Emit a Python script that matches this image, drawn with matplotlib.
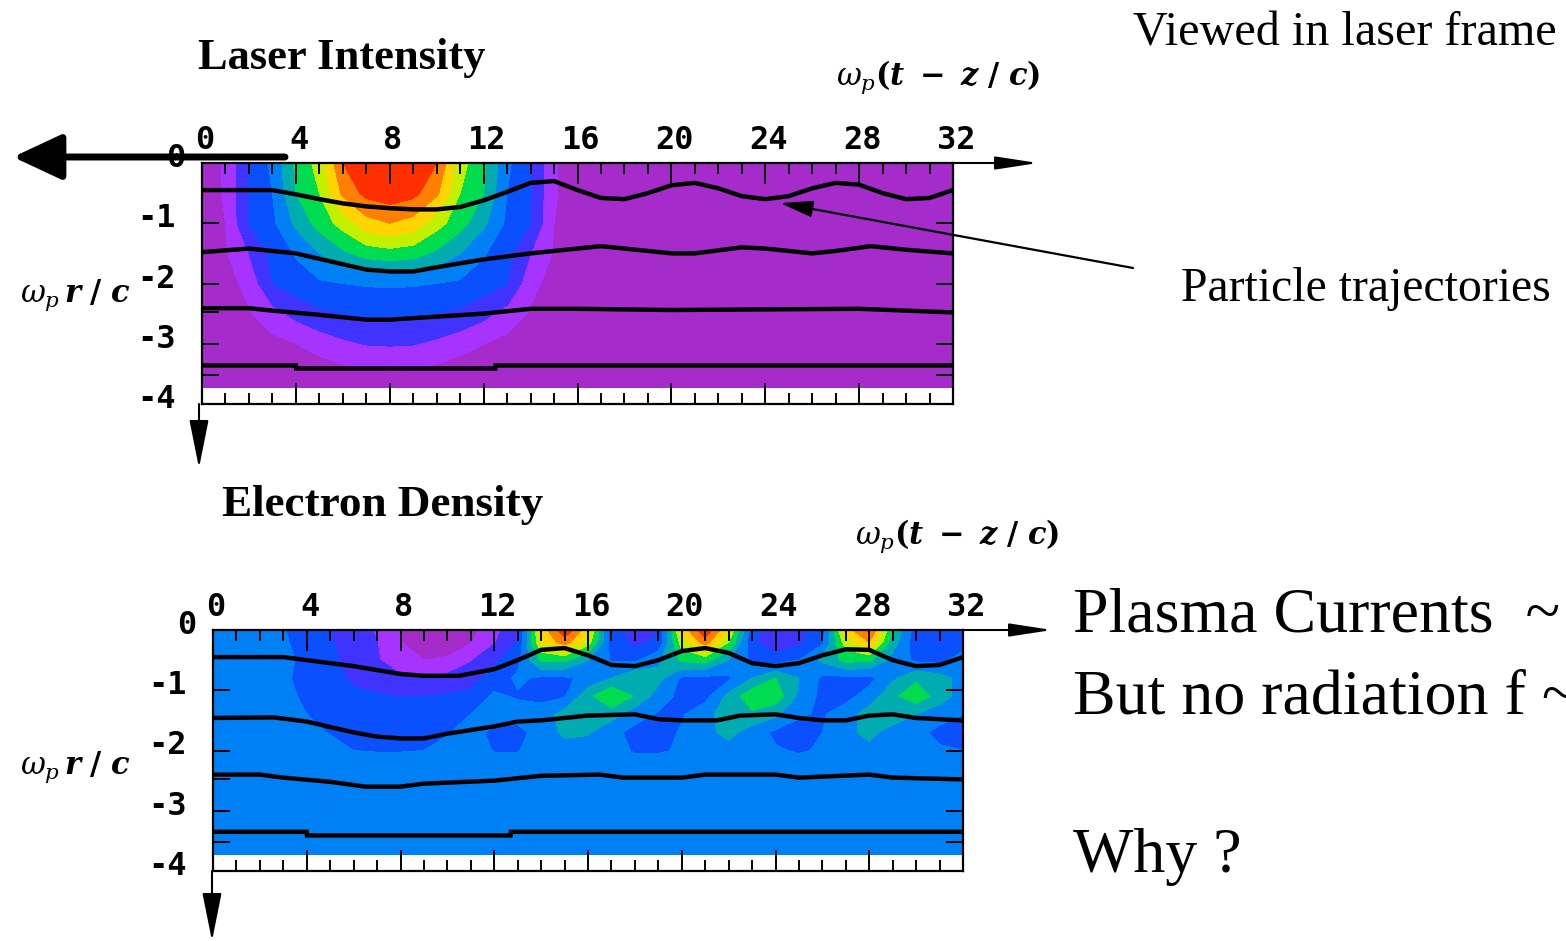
# -*- coding: utf-8 -*-
import numpy as np
import matplotlib
matplotlib.use('Agg')
import matplotlib.pyplot as plt
from matplotlib.transforms import ScaledTranslation

plt.rcParams['mathtext.fontset'] = 'dejavuserif'

W, H = 1566, 941

# band colours, low to high
band_colors = ['#A52CCB', '#A633FF', '#4033FF', '#0A50FF', '#0080F5', '#00ACB0',
               '#00DC50', '#C4F000', '#FFD400', '#FF8000', '#FF3000']
band_levels = [-1, 1, 2, 3, 4, 5, 6, 7, 8, 9, 10, 13]

x_ticks = [0, 4, 8, 12, 16, 20, 24, 28, 32]
y_ticks = [0, -1, -2, -3, -4]

laser_x = [0, 1, 2, 3, 4, 5, 6, 7, 8, 9, 10, 11, 12, 13, 14, 15, 16, 32]
laser_y = [0, -0.5, -1, -1.5, -2, -2.5, -3, -3.5, -3.73]
laser_z = [
    [0.5, 1.1, 3.1, 4.2, 6.2, 7.4, 10.0, 11.0, 12.0, 11.0, 10.0, 7.4, 6.2, 4.2, 3.1, 1.1, 0.5, 0],
    [0.5, 1.1, 3.05, 4.0, 6.0, 7.0, 9.2, 10.3, 10.6, 10.3, 9.2, 7.0, 6.0, 4.0, 3.05, 1.1, 0.5, 0],
    [0.3, 1.0, 3.0, 3.8, 5.2, 6.4, 7.4, 8.6, 9.0, 8.6, 7.4, 6.4, 5.2, 3.8, 3.0, 1.0, 0.3, 0],
    [0.2, 0.9, 2.0, 3.3, 4.1, 5.0, 5.8, 6.4, 6.6, 6.4, 5.8, 5.0, 4.1, 3.3, 2.0, 0.9, 0.2, 0],
    [0.0, 0.6, 1.3, 3.0, 3.5, 3.85, 4.0, 4.1, 4.15, 4.1, 4.0, 3.85, 3.5, 3.0, 1.3, 0.6, 0.0, 0],
    [0.0, 0.3, 0.9, 1.6, 2.3, 2.8, 3.0, 3.1, 3.15, 3.1, 3.0, 2.8, 2.3, 1.6, 0.9, 0.3, 0.0, 0],
    [0.0, 0.0, 0.3, 0.7, 1.0, 1.4, 1.8, 2.05, 2.1, 2.05, 1.8, 1.4, 1.0, 0.7, 0.3, 0.0, 0.0, 0],
    [0.0, 0.0, 0.0, 0.0, 0.2, 0.4, 0.6, 0.8, 0.85, 0.8, 0.6, 0.4, 0.2, 0.0, 0.0, 0.0, 0.0, 0],
    [0.0, 0.0, 0.0, 0.0, 0.0, 0.0, 0.0, 0.0, 0.0, 0.0, 0.0, 0.0, 0.0, 0.0, 0.0, 0.0, 0.0, 0],
]

# electron density, same band numbers, x = 0..32
density_x = list(range(33))
density_y = [0, -0.2, -0.5, -0.8, -1.1, -1.4, -1.7, -2, -2.3, -3.73]
density_z = [
    [4.5, 4.5, 4.5, 4.05, 3.6, 3.0, 2.4, 1.9, 1.0, 0.5, 0.5, 0.7, 1.7, 2.7, 8.3, 10.8, 8.3, 3.5, 2.7, 3.0, 8.3, 10.8, 8.0, 3.5, 2.3, 2.7, 3.6, 8.5, 10.2, 6.0, 3.5, 3.2, 3.5],
    [4.5, 4.5, 4.5, 4.1, 3.7, 3.1, 2.5, 2.0, 1.0, 0.6, 0.6, 0.9, 1.9, 3.0, 8.0, 9.5, 7.5, 3.5, 2.7, 3.2, 7.5, 9.5, 7.0, 3.2, 2.2, 2.8, 3.8, 7.5, 9.0, 5.5, 3.4, 2.9, 3.5],
    [4.5, 4.5, 4.5, 4.2, 3.8, 3.2, 2.7, 2.1, 1.3, 1.0, 1.1, 1.9, 2.8, 3.7, 6.2, 6.2, 5.0, 3.9, 3.8, 4.8, 6.2, 6.4, 5.0, 3.8, 3.5, 4.0, 5.2, 6.3, 6.2, 4.6, 3.8, 3.7, 4.5],
    [4.5, 4.5, 4.5, 4.1, 3.8, 3.3, 2.85, 2.5, 2.2, 2.0, 2.3, 2.7, 3.4, 4.2, 3.8, 3.8, 4.3, 5.0, 6.0, 5.3, 3.8, 3.7, 3.8, 5.0, 6.0, 5.0, 3.8, 3.7, 3.7, 4.8, 5.8, 5.4, 4.6],
    [4.5, 4.5, 4.5, 4.15, 3.9, 3.6, 3.2, 3.1, 3.0, 3.0, 3.1, 3.2, 4.2, 3.9, 3.7, 3.9, 5.7, 7.0, 5.9, 4.5, 3.7, 3.7, 5.3, 6.7, 6.6, 4.8, 3.7, 3.7, 4.4, 5.8, 6.6, 5.6, 4.4],
    [4.5, 4.5, 4.5, 4.3, 4.0, 3.75, 3.5, 3.3, 3.3, 3.4, 3.6, 4.0, 4.4, 4.4, 4.5, 5.4, 5.9, 5.4, 4.4, 3.9, 3.9, 4.6, 5.6, 5.8, 5.2, 4.1, 3.9, 4.5, 5.5, 5.7, 5.0, 4.3, 4.0],
    [4.5, 4.5, 4.5, 4.5, 4.25, 3.95, 3.75, 3.6, 3.6, 3.7, 3.95, 4.3, 3.8, 3.7, 4.4, 5.2, 5.1, 4.3, 3.7, 3.6, 4.1, 4.7, 5.3, 4.5, 3.8, 3.7, 4.0, 4.7, 5.3, 4.5, 4.2, 3.8, 3.7],
    [4.5, 4.5, 4.5, 4.5, 4.5, 4.3, 4.0, 3.95, 3.95, 4.0, 4.2, 4.4, 3.95, 3.95, 4.4, 4.6, 4.5, 4.4, 3.9, 3.9, 4.1, 4.5, 4.6, 4.5, 4.1, 3.9, 4.1, 4.5, 4.7, 4.5, 4.4, 4.1, 4.0],
    [4.5] * 33,
    [4.5] * 33,
]

# particle trajectories
top_x1 = [0, 3, 4, 5, 6, 7, 8, 9, 10, 11, 12, 13, 14, 15, 16, 17, 18, 19, 20, 21, 22, 23, 24, 25, 26, 27, 28, 29, 30, 31, 32]
top_y1 = [-.45, -.45, -.52, -.6, -.67, -.72, -.75, -.77, -.77, -.73, -.62, -.48, -.33, -.3, -.45, -.58, -.6, -.5, -.37, -.33, -.42, -.55, -.6, -.55, -.42, -.33, -.36, -.5, -.6, -.58, -.45]
top_x2 = [0, 2, 4, 6, 7, 8, 9, 10, 12, 14, 16, 17, 18, 20, 21, 23, 24, 26, 27, 28.5, 30, 32]
top_y2 = [-1.48, -1.42, -1.5, -1.68, -1.77, -1.8, -1.8, -1.73, -1.6, -1.5, -1.42, -1.38, -1.42, -1.5, -1.5, -1.4, -1.42, -1.5, -1.46, -1.38, -1.44, -1.5]
top_x3 = [0, 2, 3, 5, 7, 8, 10, 12, 14, 16, 20, 24, 28, 32]
top_y3 = [-2.41, -2.41, -2.45, -2.52, -2.6, -2.6, -2.55, -2.5, -2.42, -2.42, -2.44, -2.43, -2.42, -2.48]
top_x4 = [0, 4, 4.01, 12.5, 12.51, 32]
top_y4 = [-3.36, -3.36, -3.41, -3.41, -3.36, -3.36]

low_x1 = [0, 3, 4, 6, 8, 9, 10.5, 12, 13, 14, 15, 16, 17, 18, 19, 20, 21, 22, 23, 24, 25, 26, 27, 28, 29, 30, 31, 32]
low_y1 = [-.45, -.45, -.5, -.6, -.73, -.76, -.76, -.65, -.5, -.33, -.3, -.42, -.58, -.6, -.5, -.35, -.3, -.38, -.55, -.6, -.55, -.42, -.32, -.33, -.5, -.6, -.58, -.45]
low_x2 = [0, 2.6, 4, 6, 7, 8, 9, 10, 12, 13, 14, 16, 18, 19, 20, 21.5, 22.5, 24, 25, 26, 27, 28, 29, 30, 32]
low_y2 = [-1.46, -1.45, -1.52, -1.7, -1.77, -1.8, -1.8, -1.72, -1.6, -1.52, -1.5, -1.42, -1.4, -1.48, -1.5, -1.5, -1.42, -1.4, -1.46, -1.5, -1.5, -1.42, -1.4, -1.46, -1.5]
low_x3 = [0, 2, 3, 5, 6.5, 8, 9, 12, 14, 16.5, 17.5, 20, 21, 24, 25, 28, 29, 32]
low_y3 = [-2.4, -2.4, -2.45, -2.52, -2.6, -2.6, -2.55, -2.5, -2.42, -2.4, -2.45, -2.45, -2.4, -2.4, -2.45, -2.4, -2.45, -2.48]
low_x4 = [0, 4, 4.01, 12.7, 12.71, 32]
low_y4 = [-3.35, -3.35, -3.41, -3.41, -3.35, -3.35]

bold_mono = dict(family='DejaVu Sans Mono', fontweight='bold', fontsize=23)
serif = dict(family='Liberation Serif', color='k')


def panel(rect, x, y, z, lines):
    l, t, r, b = rect
    ax = fig.add_axes([l / W, 1 - b / H, (r - l) / W, (b - t) / H])
    ax.contourf(x, y, np.array(z), levels=band_levels, colors=band_colors, antialiased=False)
    for lx, ly in lines:
        ax.plot(lx, ly, color='k', lw=3.2, solid_joinstyle='miter')
    ax.set(xlim=(0, 32), ylim=(-4, 0))
    ax.set_xticks(x_ticks)
    ax.set_xticks(range(33), minor=True)
    ax.set_yticks(y_ticks)
    ax.set_yticklabels(['0', '-1', '-2', '-3', '-4'], **bold_mono)
    ax.set_xticklabels([str(t) for t in x_ticks], **bold_mono)
    ax.set_yticks([-2.47, -3.52], minor=True)
    ax.tick_params(axis='x', which='major', direction='in', top=True, bottom=True,
                   labeltop=True, labelbottom=False, length=15, width=1.4, pad=5)
    ax.tick_params(axis='x', which='minor', direction='in', top=True, bottom=True, length=8, width=1.4)
    ax.tick_params(axis='y', which='major', direction='in', left=True, right=True, length=12, width=1.4, pad=19)
    ax.tick_params(axis='y', which='minor', direction='in', left=True, right=True, length=12, width=1.4)
    # labels in the reference sit a little above their ticks
    for i, lab in enumerate(ax.get_yticklabels()):
        dx = 10 if i == 0 else 0
        lab.set_transform(lab.get_transform() + ScaledTranslation(dx / 100, 8 / 100, fig.dpi_scale_trans))
    for lab in ax.get_xticklabels():
        lab.set_transform(lab.get_transform() + ScaledTranslation(3 / 100, 0, fig.dpi_scale_trans))
    for s in ax.spines.values():
        s.set_linewidth(1.6)
    return ax


fig = plt.figure(figsize=(W / 100, H / 100), dpi=100)

panel((202, 163, 953, 404), laser_x, laser_y, laser_z,
      [(top_x1, top_y1), (top_x2, top_y2), (top_x3, top_y3), (top_x4, top_y4)])
panel((213, 630, 963, 871), density_x, density_y, density_z,
      [(low_x1, low_y1), (low_x2, low_y2), (low_x3, low_y3), (low_x4, low_y4)])

# overlay in pixel coordinates for the slide annotations
ov = fig.add_axes([0, 0, 1, 1], zorder=5)
ov.set(xlim=(0, W), ylim=(H, 0))
ov.axis('off')
ov.patch.set_alpha(0)


def arrow(x0, y0, x1, y1, lw=1.5, hw=12, hl=28):
    ov.annotate('', xy=(x1, y1), xytext=(x0, y0), annotation_clip=False,
                arrowprops=dict(arrowstyle=f'-|>,head_width={hw / 10},head_length={hl / 10}',
                                mutation_scale=10, lw=lw, color='k', shrinkA=0, shrinkB=0))


arrow(953, 163, 1038, 163, hw=4, hl=26)
arrow(199, 404, 199, 468, hw=6, hl=30)
arrow(963, 630, 1052, 630, hw=4, hl=26)
arrow(212, 871, 212, 941, hw=6, hl=30)
arrow(285, 157, 13, 157, lw=5, hw=14, hl=30)
arrow(1133, 268, 780, 203, lw=1.6, hw=5, hl=20)

ov.text(198, 58, 'Laser Intensity', fontsize=32, fontweight='bold', va='center', ha='left', **serif)
ov.text(222, 505, 'Electron Density', fontsize=32.5, fontweight='bold', va='center', ha='left', **serif)
ov.text(1133, 33, 'Viewed in laser frame', fontsize=34.7, va='center', ha='left', **serif)
ov.text(1181, 289, 'Particle trajectories', fontsize=34.4, va='center', ha='left', **serif)
ov.text(1073, 616, 'Plasma Currents  ~', fontsize=46, va='center', ha='left', clip_on=True, **serif)
ov.text(1073, 699, 'But no radiation f ~', fontsize=46, va='center', ha='left', clip_on=True, **serif)
ov.text(1073, 857, 'Why ?', fontsize=46, va='center', ha='left', **serif)

t_label = r'$\boldsymbol{\omega_p (t\ -\ z\ /\ c)}$'
r_label = r'$\boldsymbol{\omega_p\, r\ /\ c}$'
ov.text(836, 77, t_label, fontsize=22, va='center', ha='left')
ov.text(855, 536, t_label, fontsize=22, va='center', ha='left')
ov.text(20, 295, r_label, fontsize=22, va='center', ha='left')
ov.text(20, 767, r_label, fontsize=22, va='center', ha='left')

plt.savefig('out.png', dpi=100)
plt.close()
